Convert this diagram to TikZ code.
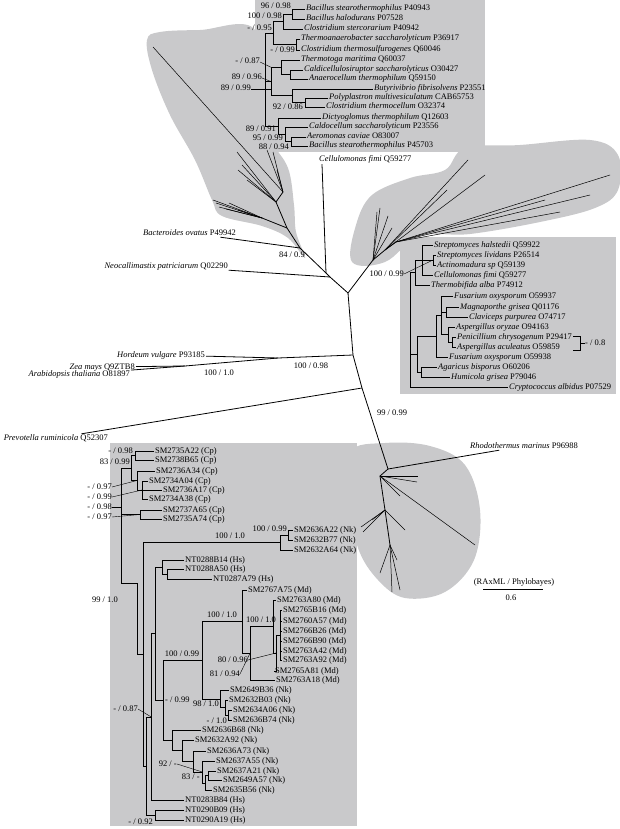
\documentclass[tikz,border=0pt]{standalone}
\usepackage{fontspec}
\setmainfont{Liberation Serif}
\usetikzlibrary{calc}
\definecolor{cladegray}{RGB}{201,201,203}

\newcommand{\taxon}[2]{\textit{#1} #2}
% rectangular clade: name, x, first child, last child
\newcommand{\clade}[4]{
    \coordinate (#1) at ($(#3)!.5!(#4)$);
    \coordinate (#1) at (#2,0 |- #1);
    \draw[tree] (#3) -- (#1 |- #3) -- (#1 |- #4) -- (#4);
}
\newcommand{\twig}[2]{\draw[tree] (#1 |- #2) -- (#2);}
% star of unlabeled branches from a hub
\newcommand{\fan}[3]{
    \foreach \x/\y [count=\i] in {#3} {
        \coordinate (#2\i) at (\x,\y);
        \draw[tree] (#1) -- (#2\i);
    }
}

\begin{document}
\begin{tikzpicture}[x=1pt,y=-1pt,
    tree/.style={line width=0.5pt},
    main/.style={line width=0.8pt},
    lead/.style={line width=0.4pt},
    tip/.style={anchor=west,inner sep=0pt,inner xsep=1pt,text height=6pt,text depth=2pt,font=\fontsize{8.5}{9}\selectfont},
    bs/.style={inner sep=0pt,text height=6pt,text depth=2pt,font=\fontsize{8.5}{9}\selectfont}]
\useasboundingbox (0,0) rectangle (620,829);

% gray clades and their boxes
\fill[cladegray] plot[smooth cycle,tension=0.6] coordinates {(305,258) (296,232) (294,205) (288,168) (270,140) (258,110) (255,30) (200,30) (160,32) (147,40) (152,70) (170,115) (195,160) (212,200) (222,216) (262,226) (288,238)};
\fill[cladegray] plot[smooth cycle,tension=0.6] coordinates {(352,262) (356,225) (372,195) (410,178) (445,170) (465,148) (520,145) (590,140) (618,155) (618,190) (595,208) (540,222) (470,234) (420,236) (385,262)};
\fill[cladegray] plot[smooth cycle,tension=0.6] coordinates {(350,452) (385,443) (430,446) (465,465) (480,510) (474,560) (445,592) (405,598) (378,580) (358,548) (350,500)};
\fill[cladegray] (255,0) rectangle (485,152);
\fill[cladegray] (400,237) rectangle (616,394);
\fill[cladegray] (110,443) rectangle (357,826);

% backbone
\coordinate (root) at (348,293);
\coordinate (neoJ) at (330,277);
\coordinate (cfJ) at (326,273);
\coordinate (bacJ) at (300,248);
\coordinate (flame) at (287,228);
\coordinate (actJ) at (373,260);
\coordinate (plantJ) at (353,355);
\coordinate (grassJ) at (278,358);
\coordinate (dicotJ) at (185,366);
\coordinate (prevJ) at (362,388);
\coordinate (rhoJ) at (388,469);

\node[tip] (cf) at (318,160) {\taxon{Cellulomonas fimi}{Q59277}};
\node[tip,anchor=east] (bac) at (237,233) {\taxon{Bacteroides ovatus}{P49942}};
\node[tip,anchor=east] (neo) at (229,266) {\taxon{Neocallimastix patriciarum}{Q02290}};
\node[tip,anchor=east] (hor) at (206,355) {\taxon{Hordeum vulgare}{P93185}};
\node[tip,anchor=east] (zea) at (136,367) {\taxon{Zea mays}{Q9ZTB8}};
\node[tip,anchor=east] (ara) at (131,374) {\taxon{Arabidopsis thaliana}{O81897}};
\node[tip,anchor=east] (pre) at (109,438) {\taxon{Prevotella ruminicola}{Q52307}};
\node[tip] (rho) at (469,446) {\taxon{Rhodothermus marinus}{P96988}};

\draw[main] (flame) -- (bacJ) -- (cfJ) -- (neoJ) -- (root) -- (actJ);
\draw[main] (root) -- (plantJ) -- (prevJ) -- (rhoJ);
\draw[main] (bacJ) -- (bac);
\draw[main] (neoJ) -- (neo);
\draw[main] (cfJ) -- ([xshift=4pt]cf.south west);
\draw[main] (plantJ) -- (grassJ) -- (dicotJ) -- (zea);
\draw[main] (dicotJ) -- (ara);
\draw[main] (grassJ) -- (hor);
\draw[main] (prevJ) -- (pre);
\draw[main] (rhoJ) -- (rho);

\node[bs,anchor=east] (bs849) at (305,255) {84 / 0.9};
\node[bs] (bs10098) at (311,366) {100 / 0.98};
\node[bs] (bs1001) at (219,373) {100 / 1.0};
\node[bs] (bs9999) at (392,413) {99 / 0.99};

% unresolved fans inside the gray clades
\coordinate (fh1) at (262,218);
\coordinate (fh2) at (276,202);
\coordinate (fh3) at (283,192);
\draw[main] (flame) -- (fh1);
\draw[main] (flame) -- (fh2) -- (fh3);
\fan{fh1}{fa}{216/203,219/207,229/203,238/210,226/209,213/200}
\fan{fh2}{fb}{237/152,247/180,238/170,242/165}
\fan{fh3}{fc}{153/47,267/150,273/152,277/170}

\coordinate (ah1) at (385,250);
\coordinate (ah2) at (396,242);
\draw[main] (actJ) -- (ah1) -- (ah2);
\fan{actJ}{aa}{380/208,377/212,388/216,392/228}
\fan{ah1}{ab}{468/160,485/175,447/190}
\fan{ah2}{ac}{610/175,560/212,545/200,590/195}

\coordinate (bh1) at (380,476);
\coordinate (bh2) at (385,510);
\coordinate (bh3) at (390,545);
\draw[main] (rhoJ) -- (bh1) -- (bh2) -- (bh3);
\fan{bh1}{ba}{475/545,418/476,417/482,400/496}
\fan{bh2}{bb}{361/527,363/532,372/520,405/530}
\fan{bh3}{bc}{380/573,400/590,392/592,397/560}

% top box
\node[tip] (t1) at (305,9) {\taxon{Bacillus stearothermophilus}{P40943}};
\node[tip] (t2) at (305,19) {\taxon{Bacillus halodurans}{P07528}};
\node[tip] (t3) at (303,29) {\taxon{Clostridium stercorarium}{P40942}};
\node[tip] (t4) at (300,39) {\taxon{Thermoanaerobacter saccharolyticum}{P36917}};
\node[tip] (t5) at (300,50) {\taxon{Clostridium thermosulfurogenes}{Q60046}};
\node[tip] (t6) at (300,60) {\taxon{Thermotoga maritima}{Q60037}};
\node[tip] (t7) at (303,70) {\taxon{Caldicellulosiruptor saccharolyticus}{O30427}};
\node[tip] (t8) at (308,79) {\taxon{Anaerocellum thermophilum}{Q59150}};
\node[tip] (t9) at (373,89) {\taxon{Butyrivibrio fibrisolvens}{P23551}};
\node[tip] (t10) at (328,98) {\taxon{Polyplastron multivesiculatum}{CAB65753}};
\node[tip] (t11) at (325,107) {\taxon{Clostridium thermocellum}{O32374}};
\node[tip] (t12) at (321,118) {\taxon{Dictyoglomus thermophilum}{Q12603}};
\node[tip] (t13) at (308,127) {\taxon{Caldocellum saccharolyticum}{P23556}};
\node[tip] (t14) at (306,137) {\taxon{Aeromonas caviae}{O83007}};
\node[tip] (t15) at (308,146) {\taxon{Bacillus stearothermophilus}{P45703}};

\clade{a1}{292}{t1}{t2}
\clade{a2}{283}{a1}{t3}
\clade{a3}{296}{t4}{t5}
\clade{a4}{273}{a2}{a3}
\clade{b1}{290}{t7}{t8}
\clade{b2}{281}{t6}{b1}
\clade{c1}{305}{t10}{t11}
\clade{c2}{292}{t9}{c1}
\clade{b3}{271}{b2}{c2}
\clade{d1}{291}{t14}{t15}
\clade{d2}{285}{t13}{d1}
\clade{d3}{278}{t12}{d2}
\clade{r1}{265}{a4}{d3}
\twig{r1}{b3}

\node[bs,anchor=east] (ta1) at (291,7) {96 / 0.98};
\node[bs,anchor=east] (ta2) at (282,17) {100 / 0.98};
\node[bs,anchor=east] (ta4) at (272,29) {- / 0.95};
\node[bs,anchor=east] (ta3) at (295,51) {- / 0.99};
\node[bs,anchor=east] (tb2) at (260,62) {- / 0.87};
\node[bs,anchor=east] (tb3) at (262,78) {89 / 0.96};
\node[bs,anchor=east] (tc2) at (251,89) {89 / 0.99};
\node[bs,anchor=east] (tc1) at (303,108) {92 / 0.86};
\node[bs,anchor=east] (td3) at (276,130) {89 / 0.91};
\node[bs,anchor=east] (td2) at (283,139) {95 / 0.99};
\node[bs,anchor=east] (td1) at (289,148) {88 / 0.94};
\draw[lead] (tb2.east) -- (b3 |- b2);
\draw[lead] (tb3.east) -- (b3);
\draw[lead] (tc2.east) -- (b3 |- t9);

% right box
\node[tip] (s1) at (433,245) {\taxon{Streptomyces halstedii}{Q59922}};
\node[tip] (s2) at (436,255) {\taxon{Streptomyces lividans}{P26514}};
\node[tip] (s3) at (436,265) {\taxon{Actinomadura sp}{Q59139}};
\node[tip] (s4) at (433,275) {\taxon{Cellulomonas fimi}{Q59277}};
\node[tip] (s5) at (430,285) {\taxon{Thermobifida alba}{P74912}};
\node[tip] (s6) at (453,296) {\taxon{Fusarium oxysporum}{O59937}};
\node[tip] (s7) at (459,307) {\taxon{Magnaporthe grisea}{Q01176}};
\node[tip] (s8) at (468,317) {\taxon{Claviceps purpurea}{O74717}};
\node[tip] (s9) at (455,327) {\taxon{Aspergillus oryzae}{O94163}};
\node[tip] (s10) at (456,337) {\taxon{Penicillium chrysogenum}{P29417}};
\node[tip] (s11) at (456,347) {\taxon{Aspergillus aculeatus}{O59859}};
\node[tip] (s12) at (448,357) {\taxon{Fusarium oxysporum}{O59938}};
\node[tip] (s13) at (437,367) {\taxon{Agaricus bisporus}{O60206}};
\node[tip] (s14) at (450,377) {\taxon{Humicola grisea}{P79046}};
\node[tip] (s15) at (508,387) {\taxon{Cryptococcus albidus}{P07529}};

\clade{e1}{433}{s2}{s3}
\clade{e2}{422}{s1}{s4}
\twig{e2}{e1}
\clade{e3}{415}{e2}{s5}
\clade{f1}{446}{s7}{s8}
\clade{f2}{452}{s10}{s11}
\clade{f3}{448}{s9}{f2}
\clade{f4}{441}{s6}{f3}
\twig{f4}{f1}
\clade{f5}{436}{f4}{s12}
\clade{f6}{421}{s13}{s14}
\clade{f7}{417}{f5}{f6}
\clade{g0}{410}{e3}{s15}
\twig{g0}{f7}

\node[bs,anchor=east] (se1) at (404,274) {100 / 0.99};
\draw[lead] (se1.east) -- (e1);
\coordinate (pb1) at (573,336);
\coordinate (pb2) at (573,350);
\draw[tree] (pb1) -- (pb1 -| 580,0) -- (pb2 -| 580,0) -- (pb2);
\node[bs,anchor=west] (sf2) at (585,343) {- / 0.8};
\draw[tree] (580,343) -- (sf2.west);

% bottom box
\node[tip] (p1) at (154,451) {SM2735A22 (Cp)};
\node[tip] (p2) at (154,460) {SM2738B65 (Cp)};
\node[tip] (p3) at (155,471) {SM2736A34 (Cp)};
\node[tip] (p4) at (148,481) {SM2734A04 (Cp)};
\node[tip] (p5) at (162,490) {SM2736A17 (Cp)};
\node[tip] (p6) at (148,499) {SM2734A38 (Cp)};
\node[tip] (p7) at (162,510) {SM2737A65 (Cp)};
\node[tip] (p8) at (162,519) {SM2735A74 (Cp)};
\node[tip] (k1) at (293,530) {SM2636A22 (Nk)};
\node[tip] (k2) at (293,540) {SM2632B77 (Nk)};
\node[tip] (k3) at (293,550) {SM2632A64 (Nk)};
\node[tip] (h1) at (184,560) {NT0288B14 (Hs)};
\node[tip] (h2) at (184,569) {NT0288A50 (Hs)};
\node[tip] (h3) at (212,579) {NT0287A79 (Hs)};
\node[tip] (m1) at (247,590) {SM2767A75 (Md)};
\node[tip] (m2) at (276,600) {SM2763A80 (Md)};
\node[tip] (m3) at (282,610) {SM2765B16 (Md)};
\node[tip] (m4) at (282,621) {SM2760A57 (Md)};
\node[tip] (m5) at (282,631) {SM2766B26 (Md)};
\node[tip] (m6) at (282,641) {SM2766B90 (Md)};
\node[tip] (m7) at (282,651) {SM2763A42 (Md)};
\node[tip] (m8) at (282,660) {SM2763A92 (Md)};
\node[tip] (m9) at (274,671) {SM2765A81 (Md)};
\node[tip] (m10) at (275,680) {SM2763A18 (Md)};
\node[tip] (n1) at (229,690) {SM2649B36 (Nk)};
\node[tip] (n2) at (228,700) {SM2632B03 (Nk)};
\node[tip] (n3) at (232,710) {SM2634A06 (Nk)};
\node[tip] (n4) at (232,720) {SM2636B74 (Nk)};
\node[tip] (n5) at (201,730) {SM2636B68 (Nk)};
\node[tip] (n6) at (194,740) {SM2632A92 (Nk)};
\node[tip] (n7) at (206,751) {SM2636A73 (Nk)};
\node[tip] (n8) at (215,761) {SM2637A55 (Nk)};
\node[tip] (n9) at (216,771) {SM2637A21 (Nk)};
\node[tip] (n10) at (222,780) {SM2649A57 (Nk)};
\node[tip] (n11) at (212,790) {SM2635B56 (Nk)};
\node[tip] (h4) at (184,800) {NT0283B84 (Hs)};
\node[tip] (h5) at (184,810) {NT0290B09 (Hs)};
\node[tip] (h6) at (184,820) {NT0290A19 (Hs)};

\clade{q1}{135}{p1}{p2}
\clade{q2}{142}{p4}{p6}
\twig{q2}{p5}
\clade{q3}{137}{p3}{q2}
\clade{q4}{131}{q1}{q3}
\clade{q5}{140}{p7}{p8}
\clade{k4}{288}{k1}{k2}
\clade{k5}{280}{k4}{k3}
\clade{hs1}{167}{h2}{h3}
\clade{hs2}{162}{h1}{hs1}
\clade{md1}{280}{m3}{m8}
\foreach \m in {m4,m5,m6,m7} {\twig{md1}{\m}}
\clade{md2}{276}{md1}{m9}
\clade{md3}{273}{m2}{md2}
\clade{md4}{250}{md3}{m10}
\clade{md5}{242}{m1}{md4}
\clade{nk1}{228}{n3}{n4}
\clade{nk2}{225}{n2}{nk1}
\clade{nk3}{220}{n1}{nk2}
\clade{md6}{202}{md5}{nk3}
\clade{nb1}{208}{n9}{n10}
\clade{nb2}{205}{nb1}{n11}
\clade{nb3}{202}{n8}{nb2}
\clade{nb4}{193}{n7}{nb3}
\clade{nb5}{182}{n6}{nb4}
\clade{nb6}{172}{n5}{nb5}
\clade{md7}{163}{md6}{nb6}
\clade{hm1}{155}{hs2}{md7}
\clade{hm2}{151}{hm1}{h4}
\clade{hs3}{155}{h5}{h6}
\clade{hm3}{146}{hm2}{hs3}
\clade{big}{143}{k5}{hm3}
% basal node of the box: long vertical, then a step to the big clade
\coordinate (cp) at (121,500);
\coordinate (cpj) at (137,583);
\draw[tree] (q4) -- (cp |- q4) -- (cp |- cpj) -- (cpj) -- (cpj |- big) -- (big);
\twig{cp}{q5}

\node[bs,anchor=east] (bq1) at (133,451) {- / 0.98};
\node[bs,anchor=east] (bq4) at (130,462) {83 / 0.99};
\node[bs,anchor=east] (bq3) at (112,487) {- / 0.97};
\node[bs,anchor=east] (bq2) at (112,497) {- / 0.99};
\node[bs,anchor=east] (bcp) at (112,507) {- / 0.98};
\node[bs,anchor=east] (bq5) at (112,517) {- / 0.97};
\draw[lead] (bq3.east) -- (q3);
\draw[lead] (bq2.east) -- (q2);
\draw[lead] (bcp.east) -- (cp |- bcp);
\draw[lead] (bq5.east) -- (q5);
\node[bs,anchor=south] (bk5) at (230,541) {100 / 1.0};
\node[bs,anchor=east] (bk4) at (287,529) {100 / 0.99};
\node[bs,anchor=east] (bbig) at (118,600) {99 / 1.0};
\node[bs,anchor=south] (bmd5) at (222,620) {100 / 1.0};
\node[bs,anchor=south] (bmd3) at (261,625) {100 / 1.0};
\node[bs,anchor=east] (bmd2) at (248,660) {80 / 0.96};
\node[bs,anchor=east] (bmd4) at (240,674) {81 / 0.94};
\draw[lead] (bmd2.east) -- (md2);
\draw[lead] (bmd4.east) -- (md4);
\node[bs,anchor=south] (bmd6) at (182,659) {100 / 0.99};
\node[bs,anchor=east] (bnk3) at (219,704) {98 / 1.0};
\node[bs,anchor=east] (bnk1) at (227,721) {- / 1.0};
\node[bs,anchor=west] (bmd7) at (165,700) {- / 0.99};
\node[bs,anchor=east] (bnb3) at (177,764) {92 / -};
\draw[lead] (bnb3.east) -- (nb3);
\node[bs,anchor=east] (bnb2) at (200,777) {83 / -};
\node[bs,anchor=east] (bhm2) at (138,709) {- / 0.87};
\draw[lead] (bhm2.east) -- (hm2);
\node[bs,anchor=east] (bhs3) at (153,822) {- / 0.92};

% scale
\node[bs] (method) at (514,582) {(RAxML / Phylobayes)};
\coordinate (sc1) at (483,589);
\coordinate (sc2) at (543,589);
\draw[tree] (sc1) -- (sc2);
\node[bs] (scale) at (511,598) {0.6};
\end{tikzpicture}
\end{document}
